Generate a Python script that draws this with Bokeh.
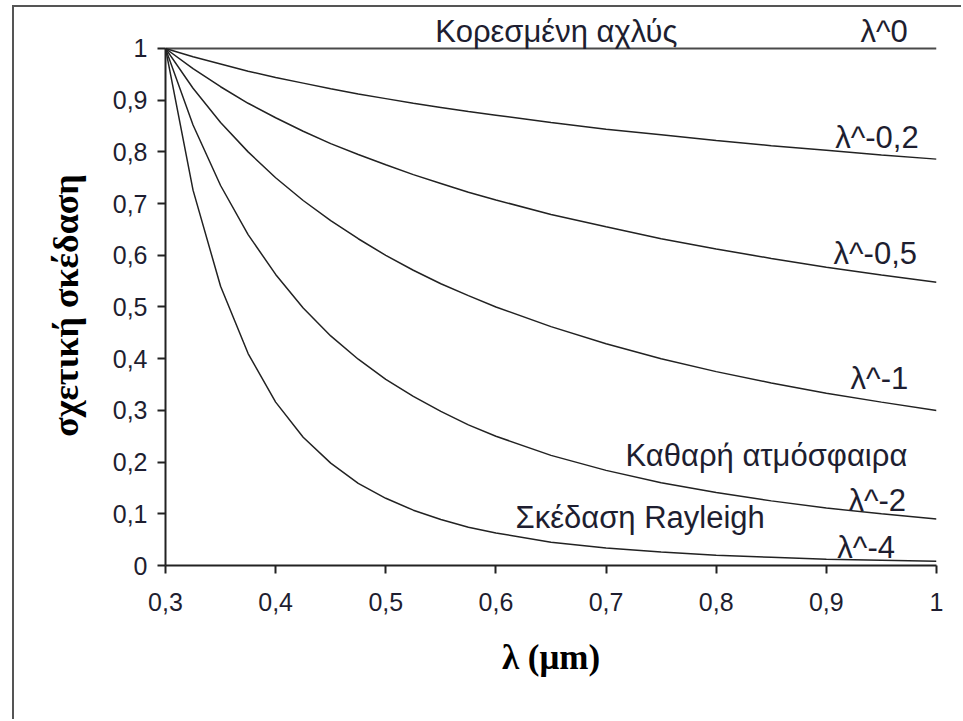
from bokeh.plotting import figure
from bokeh.models import Label, FixedTicker, CustomJSTickFormatter, Range1d
from bokeh.embed import file_html
from bokeh.resources import INLINE

# ---- data ----
wavelength = [0.300, 0.325, 0.350, 0.375, 0.400, 0.425, 0.450, 0.475, 0.500, 0.525, 0.550,
              0.575, 0.600, 0.650, 0.700, 0.750, 0.800, 0.850, 0.900, 0.950, 1.000]
s_pow0  = [1.000, 1.000, 1.000, 1.000, 1.000, 1.000, 1.000, 1.000, 1.000, 1.000, 1.000,
           1.000, 1.000, 1.000, 1.000, 1.000, 1.000, 1.000, 1.000, 1.000, 1.000]
s_pow02 = [1.000, 0.984, 0.970, 0.956, 0.944, 0.933, 0.922, 0.912, 0.903, 0.894, 0.886,
           0.878, 0.871, 0.857, 0.844, 0.833, 0.822, 0.812, 0.803, 0.794, 0.786]
s_pow05 = [1.000, 0.961, 0.926, 0.894, 0.866, 0.840, 0.816, 0.795, 0.775, 0.756, 0.739,
           0.722, 0.707, 0.679, 0.655, 0.632, 0.612, 0.594, 0.577, 0.562, 0.548]
s_pow1  = [1.000, 0.923, 0.857, 0.800, 0.750, 0.706, 0.667, 0.632, 0.600, 0.571, 0.545,
           0.522, 0.500, 0.462, 0.429, 0.400, 0.375, 0.353, 0.333, 0.316, 0.300]
s_pow2  = [1.000, 0.852, 0.735, 0.640, 0.563, 0.498, 0.444, 0.399, 0.360, 0.327, 0.298,
           0.272, 0.250, 0.213, 0.184, 0.160, 0.141, 0.125, 0.111, 0.100, 0.090]
s_pow4  = [1.000, 0.726, 0.540, 0.410, 0.316, 0.248, 0.198, 0.159, 0.130, 0.107, 0.089,
           0.074, 0.063, 0.045, 0.034, 0.026, 0.020, 0.016, 0.012, 0.010, 0.008]

x_ticks = [0.3, 0.4, 0.5, 0.6, 0.7, 0.8, 0.9, 1.0]
y_ticks = [0.0, 0.1, 0.2, 0.3, 0.4, 0.5, 0.6, 0.7, 0.8, 0.9, 1.0]

# label texts and anchor points (data units)
curve_labels = ["λ^0", "λ^-0,2", "λ^-0,5", "λ^-1", "λ^-2", "λ^-4"]
curve_label_x = [0.931, 0.908, 0.9065, 0.922, 0.920, 0.910]
curve_label_y = [1.032, 0.8285, 0.604, 0.362, 0.126, 0.0355]
notes = ["Κορεσμένη αχλύς", "Καθαρή ατμόσφαιρα", "Σκέδαση Rayleigh"]
note_x = [0.545, 0.7177, 0.6178]
note_y = [1.032, 0.213, 0.0935]

SANS = "Liberation Sans"
SERIF = "Liberation Serif"
TXT = "#1e1e30"

p = figure(width=949, height=714, output_backend="svg", toolbar_location=None,
           x_range=Range1d(0.3, 1.0), y_range=Range1d(0.0, 1.0754),
           min_border_left=151, min_border_top=2, min_border_right=27, min_border_bottom=156)
p.styles = {"margin-left": "12px", "margin-top": "5px",
            "border-left": "2px solid #555", "border-top": "2px solid #555"}
p.background_fill_color = "white"
p.border_fill_color = "white"
p.outline_line_color = None
p.grid.visible = False

p.line(wavelength, s_pow0, line_color="#4a4a4a", line_width=2.2)
for ys in [s_pow02, s_pow05, s_pow1, s_pow2, s_pow4]:
    p.line(wavelength, ys, line_color="#222222", line_width=1.5)

fmt = CustomJSTickFormatter(code="const s = (Math.round(tick*10)/10).toString(); return s.replace('.', ',');")
for ax, ticks in [(p.xaxis, x_ticks), (p.yaxis, y_ticks)]:
    ax.ticker = FixedTicker(ticks=ticks)
    ax.formatter = fmt
    ax.minor_tick_line_color = None
    ax.major_tick_in = 0
    ax.major_tick_out = 8
    ax.major_tick_line_color = "#222222"
    ax.major_tick_line_width = 2
    ax.axis_line_color = "#222222"
    ax.axis_line_width = 2
    ax.major_label_text_font = SANS
    ax.major_label_text_font_size = "25px"
    ax.major_label_text_color = TXT
    ax.axis_label_text_font = SERIF
    ax.axis_label_text_font_style = "bold"
    ax.axis_label_text_color = "black"

p.yaxis.bounds = (0, 1)
p.xaxis.axis_label = "λ (μm)"
p.xaxis.axis_label_text_font_size = "35px"
p.xaxis.major_label_standoff = 19
p.xaxis.axis_label_standoff = 24
# trailing no-break spaces centre the visible label on the 0..1 axis span
p.yaxis.axis_label = "σχετική σκέδαση" + "\u00a0" * 4
p.yaxis.axis_label_text_font_size = "36px"
p.yaxis.major_label_standoff = 10
p.yaxis.axis_label_standoff = 24

for t, x, y in zip(curve_labels + notes, curve_label_x + note_x, curve_label_y + note_y):
    p.add_layout(Label(x=x, y=y, text=t, text_font=SANS, text_font_size="31px",
                       text_color=TXT, text_align="left", text_baseline="alphabetic"))

open("out.html", "w").write(file_html(p, INLINE))
